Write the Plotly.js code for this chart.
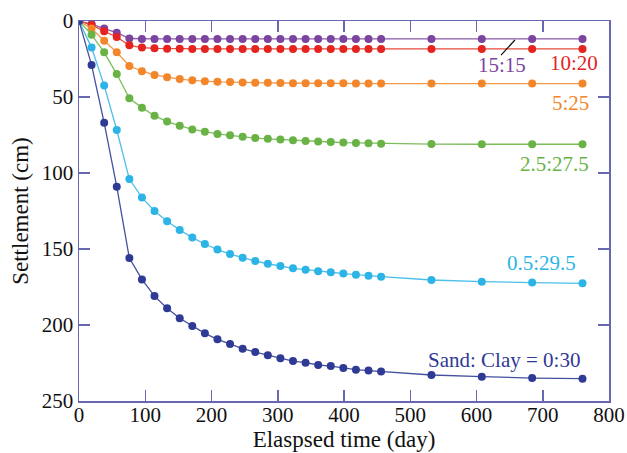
<!DOCTYPE html>
<html>
<head>
<meta charset="utf-8">
<script src="https://cdn.plot.ly/plotly-3.0.1.min.js"></script>
<style>html,body{margin:0;padding:0;background:#fff;}#chart{width:627px;height:453px;}</style>
</head>
<body>
<div id="chart"></div>
<script>
var days = [0,19,38,57,76,95,114,133,152,171,190,209,228,247,266,285,304,323,342,361,380,399,418,437,456,532,608,684,760];

var s15_15 = [0,2,5,7.7,11.5,11.8,11.8,11.8,11.8,11.8,11.8,11.8,11.8,11.8,11.8,11.8,11.8,11.8,11.8,11.8,11.8,11.8,11.8,11.8,11.8,11.8,11.8,11.8,11.8];
var s10_20 = [0,2.6,6.8,10.5,16,17.5,18,18.2,18.3,18.4,18.4,18.4,18.4,18.4,18.4,18.4,18.4,18.4,18.4,18.4,18.4,18.4,18.4,18.4,18.4,18.4,18.4,18.4,18.4];
var s5_25 = [0,5,13,20.6,29.6,33,35.5,37,38.2,39,39.6,40,40.2,40.5,40.6,40.7,40.8,40.9,41,41,41,41,41.1,41.2,41.2,41.2,41.2,41.2,41.2];
var s2_5 = [0,9,20.6,34.9,50.9,57,62.3,66.2,68.9,71.3,72.8,74.3,75.2,76.2,77,77.5,78,78.5,78.9,79.2,79.6,80,80.2,80.5,80.7,81,81.1,81.1,81.1];
var s0_5 = [0,17.5,42.5,71.7,104,116.2,125,131.8,137.5,142.5,146.7,150.4,153.3,155.7,157.9,159.7,161.2,162.7,163.6,164.7,165.3,166.2,166.9,167.6,168.2,170.4,171.5,172.1,172.6];
var s0_30 = [0,29,67,109,156,170,181,189,195.6,200.7,205.5,209.4,212.5,215.6,217.8,219.9,221.9,223.7,224.8,226.3,227,228.3,229.4,230,230.6,232.9,234,234.9,235.3];

var seriesNames = ["15:15","10:20","5:25","2.5:27.5","0.5:29.5","Sand: Clay = 0:30"];
var seriesData = [s15_15, s10_20, s5_25, s2_5, s0_5, s0_30];
var markerColors = ["#7b449f","#e5231f","#f3862a","#69b346","#2cb4e6","#2f3a95"];
var lineColors = ["#8b5aac","#ea4a3a","#f39a4a","#7cbd5c","#4bbfe9","#45509f"];

var traces = seriesData.map(function(d, i){
  return {x: days, y: d, type: 'scatter', mode: 'lines+markers', name: seriesNames[i],
    line: {color: lineColors[i], width: 1.3},
    marker: {color: markerColors[i], size: 8}};
});

var font = "Liberation Serif";
var axisColor = "#6767b2";

var annotations = [
  {text: "15:15", x: 638, y: 29, color: markerColors[0]},
  {text: "10:20", x: 747, y: 27.6, color: markerColors[1]},
  {text: "5:25", x: 742, y: 54, color: markerColors[2]},
  {text: "2.5:27.5", x: 718, y: 94, color: markerColors[3]},
  {text: "0.5:29.5", x: 698, y: 159.4, color: markerColors[4]},
  {text: "Sand: Clay = 0:30", x: 641, y: 223, color: markerColors[5]}
].map(function(a){
  return {text: a.text, x: a.x, y: a.y, xref: 'x', yref: 'y', showarrow: false,
    font: {family: font, size: 21, color: a.color}, xanchor: 'center', yanchor: 'middle'};
});

var layout = {
  width: 627, height: 453,
  margin: {l: 79, r: 18, t: 21, b: 52, pad: 0},
  paper_bgcolor: '#fff', plot_bgcolor: '#fff',
  showlegend: false,
  font: {family: font, size: 21, color: '#111'},
  xaxis: {
    range: [0, 800], dtick: 100, tick0: 0,
    showgrid: false, zeroline: false,
    showline: true, linecolor: axisColor, linewidth: 1.5,
    mirror: 'ticks', ticks: 'inside', ticklen: 11, tickcolor: axisColor, tickwidth: 1.5,
    ticklabelstandoff: -6,
    tickfont: {family: font, size: 21, color: '#111'},
    title: {text: 'Elaspsed time (day)', font: {family: font, size: 23, color: '#111'}, standoff: 0}
  },
  yaxis: {
    range: [250, 0], dtick: 50, tick0: 0,
    showgrid: false, zeroline: false,
    showline: true, linecolor: axisColor, linewidth: 1.5,
    mirror: 'ticks', ticks: 'inside', ticklen: 11, tickcolor: axisColor, tickwidth: 1.5,
    tickfont: {family: font, size: 21, color: '#111'},
    title: {text: 'Settlement (cm)', font: {family: font, size: 23, color: '#111'}, standoff: 6}
  },
  annotations: annotations,
  shapes: [{type: 'line', xref: 'x', yref: 'y', x0: 637, y0: 22.4, x1: 658, y1: 12.5,
    line: {color: '#111', width: 1.2}}]
};

Plotly.newPlot('chart', traces, layout, {displayModeBar: false, staticPlot: true});
</script>
</body>
</html>
